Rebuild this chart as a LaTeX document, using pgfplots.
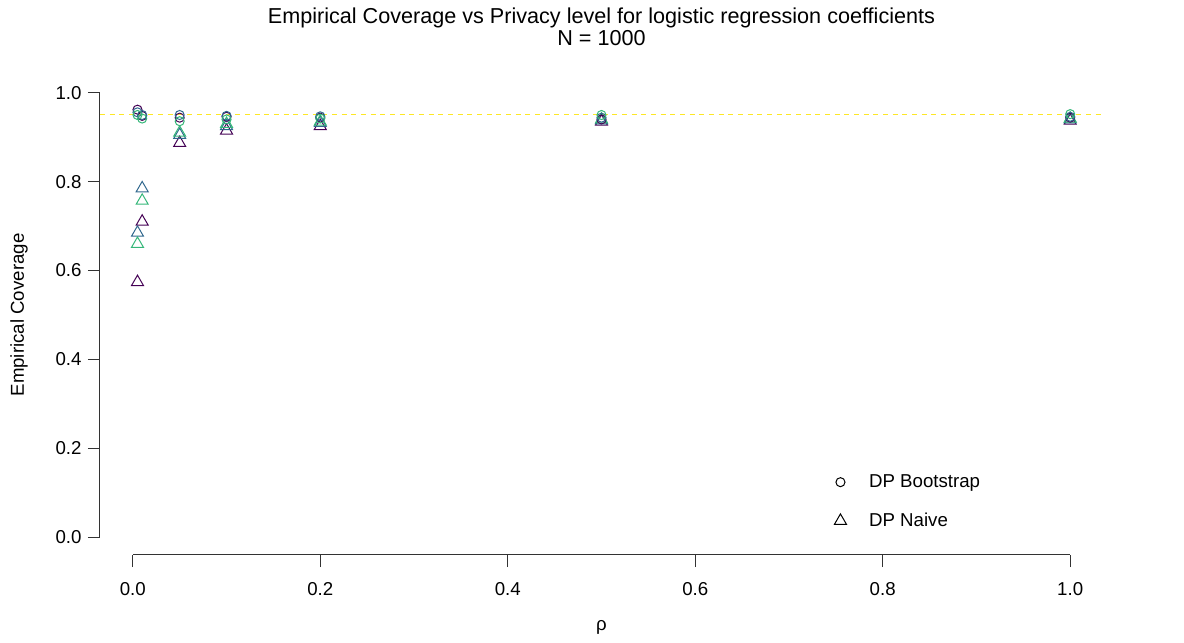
\documentclass[border=0pt]{standalone}
\usepackage{pgfplots}
\pgfplotsset{compat=1.18}
\usepackage{fontspec}
\setmainfont{Liberation Sans}
\definecolor{vA}{HTML}{440154}
\definecolor{vB}{HTML}{31688E}
\definecolor{vC}{HTML}{35B779}
\definecolor{vD}{HTML}{FDE725}
\begin{document}
\fontsize{14}{16.8}\selectfont
\begin{tikzpicture}
\begin{axis}[
  scale only axis, width=752.25pt, height=360pt,
  xmin=-0.035, xmax=1.035, ymin=-0.04, ymax=1.04,
  axis line style={draw=none},
  tick align=outside, xtick pos=bottom, ytick pos=left,
  major tick length=9pt,
  tick style={black!80, line width=0.75pt},
  xtick={0,0.2,0.4,0.6,0.8,1.0}, xticklabels={0.0,0.2,0.4,0.6,0.8,1.0},
  ytick={0,0.2,0.4,0.6,0.8,1.0}, yticklabels={0.0,0.2,0.4,0.6,0.8,1.0},
  ticklabel style={font=\fontsize{14}{16.8}\selectfont},
  xticklabel style={yshift=-6.5pt},
  clip=false,
  legend style={at={(rel axis cs:0.732,0.1741)}, anchor=north west, draw=none, fill=none,
    inner sep=0pt, row sep=13pt, font=\fontsize{14}{16.8}\selectfont,
    /tikz/every odd column/.append style={column sep=15pt}},
  legend cell align=left,
  legend image code/.code={\draw[#1] plot coordinates {(0pt,0pt)};},
]
\draw[line width=0.75pt, black!80] (axis cs:0,-0.04) -- (axis cs:1,-0.04);
\draw[line width=0.75pt, black!80] (axis cs:-0.035,0) -- (axis cs:-0.035,1);
\addplot[forget plot, color=vD, dash pattern=on 3.75pt off 3.5pt, line width=0.75pt] coordinates {(-0.035,0.95) (1.035,0.95)};
% DP Naive (triangles)
\addplot[forget plot, only marks, mark=triangle, mark size=5.2pt, line width=0.75pt, color=vA] coordinates {
(0.005,0.574) (0.01,0.71) (0.05,0.887) (0.1,0.915) (0.2,0.925) (0.5,0.935) (1.0,0.937)};
\addplot[forget plot, only marks, mark=triangle, mark size=5.2pt, line width=0.75pt, color=vB] coordinates {
(0.005,0.685) (0.01,0.785) (0.05,0.905) (0.1,0.925) (0.2,0.932) (0.5,0.938) (1.0,0.940)};
\addplot[forget plot, only marks, mark=triangle, mark size=5.2pt, line width=0.75pt, color=vC] coordinates {
(0.005,0.660) (0.01,0.757) (0.05,0.910) (0.1,0.930) (0.2,0.935) (0.5,0.940) (1.0,0.942)};
% DP Bootstrap (circles)
\addplot[forget plot, only marks, mark=o, mark size=3.4pt, line width=0.75pt, color=vA] coordinates {
(0.005,0.962) (0.01,0.948) (0.05,0.944) (0.1,0.946) (0.2,0.944) (0.5,0.940) (1.0,0.944)};
\addplot[forget plot, only marks, mark=o, mark size=3.4pt, line width=0.75pt, color=vB] coordinates {
(0.005,0.956) (0.01,0.950) (0.05,0.950) (0.1,0.948) (0.2,0.947) (0.5,0.944) (1.0,0.946)};
\addplot[forget plot, only marks, mark=o, mark size=3.4pt, line width=0.75pt, color=vC] coordinates {
(0.005,0.950) (0.01,0.942) (0.05,0.936) (0.1,0.940) (0.2,0.942) (0.5,0.950) (1.0,0.952)};
\addlegendimage{only marks, mark=o, mark size=3.4pt, line width=0.75pt, black}
\addlegendentry{DP Bootstrap}
\addlegendimage{only marks, mark=triangle, mark size=5.2pt, line width=0.75pt, black}
\addlegendentry{DP Naive}
\node[anchor=base, font=\fontsize{16.2}{19}\selectfont] at (rel axis cs:0.5,1.1067) {Empirical Coverage vs Privacy level for logistic regression coefficients};
\node[anchor=base, font=\fontsize{16.2}{19}\selectfont] at (rel axis cs:0.5,1.0608) {N = 1000};
\node[anchor=base] at (rel axis cs:0.5,-0.158) {ρ};
\node[anchor=base, rotate=90] at (rel axis cs:-0.0758,0.5) {Empirical Coverage};
\path (rel axis cs:-0.0997,-0.18333) rectangle (rel axis cs:1.08076,1.15625);
\end{axis}
\end{tikzpicture}
\end{document}
